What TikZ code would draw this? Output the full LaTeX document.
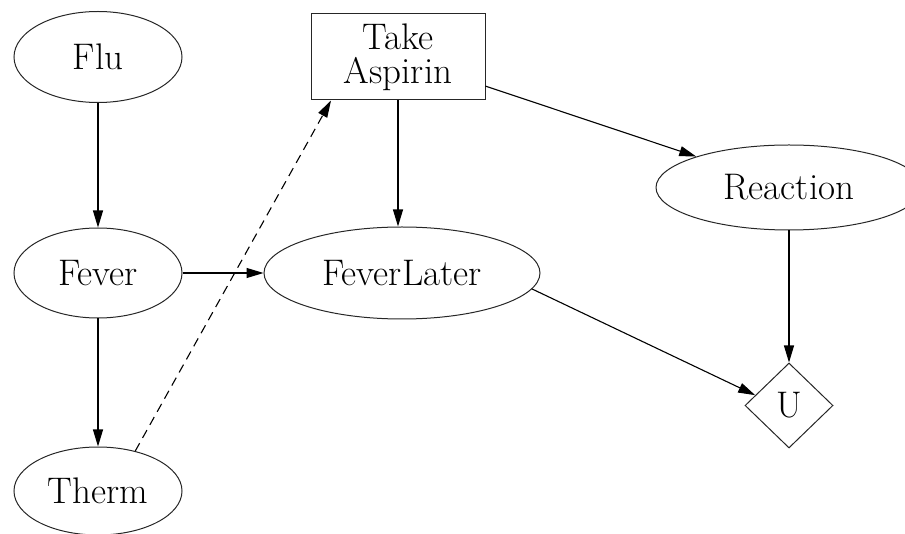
\documentclass[tikz,border=0pt]{standalone}
\usetikzlibrary{shapes.geometric,arrows.meta}
\begin{document}
\begin{tikzpicture}[x=1pt,y=-1pt,
  every node/.style={font=\fontsize{37}{34}\selectfont, inner sep=0pt, line width=1pt, draw=black!85},
  chance/.style={ellipse},
  decision/.style={rectangle, align=center},
  utility/.style={diamond},
  link/.style={line width=1.1pt, -{Triangle[length=17pt,width=10pt]}},
  infolink/.style={link, dash pattern=on 9pt off 6pt}]
  \useasboundingbox (0,0) rectangle (905,534);

  % chance nodes
  \node[chance, minimum width=168, minimum height=91] (flu) at (98,57) {Flu};
  \node[chance, minimum width=168, minimum height=90] (fever) at (98,273) {Fever};
  \node[chance, minimum width=168, minimum height=88] (therm) at (98,491) {Therm};
  \node[chance, minimum width=276, minimum height=92] (feverlater) at (402,273) {FeverLater};
  \node[chance, minimum width=266, minimum height=85] (reaction) at (789,187.5) {Reaction};

  % decision node
  \node[decision, minimum width=174, minimum height=86] (aspirin) at (398,57) {Take\\Aspirin};

  % utility node
  \node[utility, minimum width=88, minimum height=85] (u) at (789,405.5) {U};

  % influences
  \draw[link] (flu) -- (fever);
  \draw[link] (fever) -- (therm);
  \draw[link] (fever) -- (feverlater);
  \draw[link] (aspirin.south) -- (aspirin.south |- feverlater.north);
  \draw[link] (aspirin) -- (reaction);
  \draw[link] (reaction) -- (u);
  \draw[link] (feverlater.-7.4) -- (u.163);

  % information link
  \draw[infolink] (therm.47) -- (aspirin.213.5);
\end{tikzpicture}
\end{document}
